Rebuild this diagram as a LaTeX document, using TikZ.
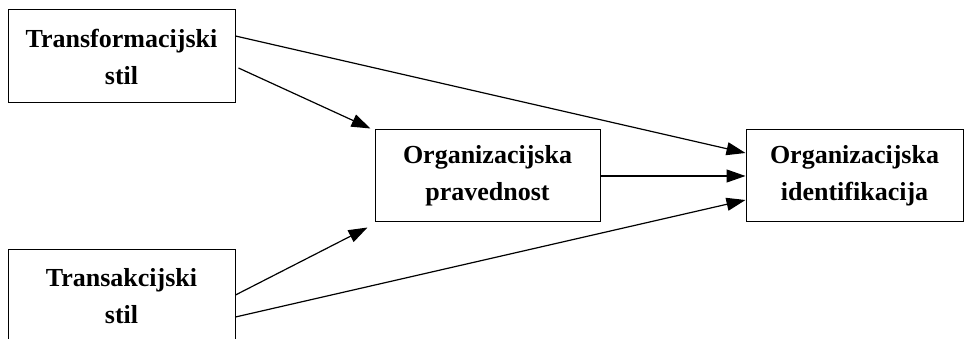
\documentclass[tikz,border=0pt]{standalone}
\usepackage{fontspec}
\setmainfont{Liberation Serif}
\usetikzlibrary{arrows.meta}
\begin{document}
\begin{tikzpicture}[x=1pt, y=-1pt,
    box/.style={draw, line width=1pt, align=center, font=\fontsize{26}{37}\selectfont\bfseries, inner sep=0pt},
    link/.style={line width=1.2pt, -{Triangle[length=19pt, width=13pt]}}]
        \useasboundingbox (0, 0) rectangle (964, 339);
        \clip (0, 0) rectangle (964, 339);
        \node[box, minimum width=227pt, minimum height=93pt] (transformacijski) at (121.5, 56.5) {Transformacijski\\stil};
        \node[box, minimum width=227pt, minimum height=93pt] (transakcijski) at (121.5, 296.5) {Transakcijski\\stil};
        \node[box, minimum width=225pt, minimum height=92pt] (pravednost) at (487.5, 176) {Organizacijska\\pravednost};
        \node[box, minimum width=217pt, minimum height=92pt] (identifikacija) at (854.5, 176) {Organizacijska\\identifikacija};
        \draw[link] ([yshift=20.5pt]transformacijski.east) -- ([yshift=23pt]identifikacija.west);
        \draw[link] ([xshift=3pt, yshift=-11.5pt]transformacijski.east) -- ([xshift=-4pt, yshift=1pt]pravednost.north west);
        \draw[link] (pravednost.east) -- (identifikacija.west);
        \draw[link] ([yshift=1.5pt]transakcijski.east) -- ([xshift=-7pt, yshift=-5pt]pravednost.south west);
        \draw[link] ([yshift=-20.5pt]transakcijski.east) -- ([yshift=-24pt]identifikacija.west);
    \end{tikzpicture}
\end{document}
